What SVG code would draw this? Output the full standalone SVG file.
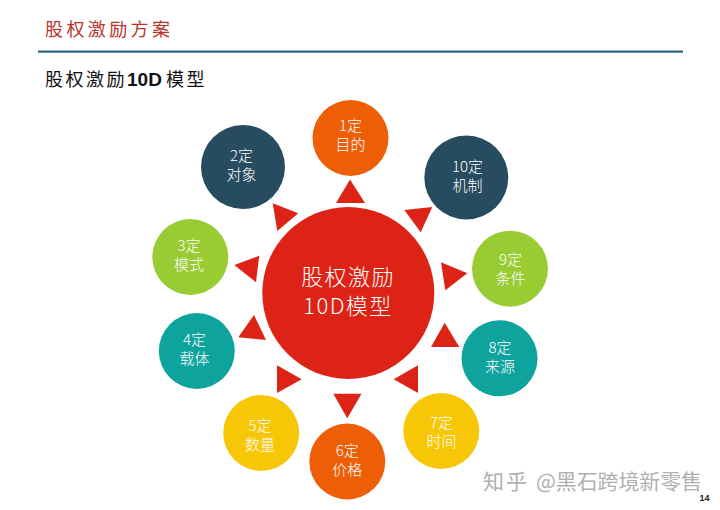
<svg xmlns="http://www.w3.org/2000/svg" width="720" height="510" viewBox="0 0 720 510">
<style>
text{font-family:"Noto Sans CJK SC","Liberation Sans",sans-serif}
.l{fill:#fff;font-size:15px;text-anchor:middle;font-weight:300}
.c{fill:#fff;font-size:22px;text-anchor:middle;font-weight:300;letter-spacing:1.4px}
.w{fill:#b0b0b0;font-size:21px}
.tri{fill:#dc2315}
.o{fill:#ee5e06}.n{fill:#274b5f}.g{fill:#99cc33}.t{fill:#0fa39e}.y{fill:#f7c707}
</style>
<rect width="720" height="510" fill="#fff"/>
<g id="header">
<text x="45" y="36" font-size="18" letter-spacing="3.4" fill="#b8342c">股权激励方案</text>
<rect x="38" y="50.500" width="645" height="2.200" fill="#2a6082"/>
<text x="45" y="86" font-size="18" letter-spacing="2.500" fill="#111">股权激励</text>
<text x="127" y="86" font-size="19" font-weight="700" fill="#111" style="font-family:'Liberation Sans',sans-serif">10D</text>
<text x="166" y="86" font-size="18" letter-spacing="2.500" fill="#111">模型</text>
</g>
<g id="connectors">
<polygon class="tri" points="350,179.500 336,203 365,203"/>
<polygon class="tri" points="272.700,203.300 298.300,213.300 277.300,231"/>
<polygon class="tri" points="404.300,210 432.300,207 420.700,232.300"/>
<polygon class="tri" points="234.300,265 259.300,255.700 256,282.300"/>
<polygon class="tri" points="441,262.300 467.300,273.300 445.300,290.300"/>
<polygon class="tri" points="238.300,337.300 254,315 266,340"/>
<polygon class="tri" points="431,347 444.700,322.700 459.300,347"/>
<polygon class="tri" points="277,365.300 301.700,379.300 277,393"/>
<polygon class="tri" points="418,365.300 393.700,379.300 418,393"/>
<polygon class="tri" points="333.300,393.700 347.300,418.300 361.500,393.700"/>
</g>
<g id="center"><circle cx="348.300" cy="293" r="86" fill="#dc2315"/>
<text class="c" x="348" y="285">股权激励</text>
<text class="c" x="348" y="314">10D模型</text></g>
<g id="n1"><circle class="o" cx="350.500" cy="138" r="38"/><text class="l" x="350.500" y="131">1定</text><text class="l" x="350.500" y="150">目的</text></g>
<g id="n2"><circle class="n" cx="243" cy="167" r="42"/><text class="l" x="241.500" y="161">2定</text><text class="l" x="241.500" y="180">对象</text></g>
<g id="n3"><circle class="g" cx="190.300" cy="257" r="38"/><text class="l" x="189" y="251">3定</text><text class="l" x="189" y="270">模式</text></g>
<g id="n4"><circle class="t" cx="196.800" cy="351" r="38"/><text class="l" x="194.500" y="345">4定</text><text class="l" x="194.500" y="364">载体</text></g>
<g id="n5"><circle class="y" cx="261.200" cy="433" r="38"/><text class="l" x="260" y="431">5定</text><text class="l" x="260" y="450">数量</text></g>
<g id="n6"><circle class="o" cx="347.300" cy="461.500" r="38"/><text class="l" x="347.300" y="456">6定</text><text class="l" x="347.300" y="475">价格</text></g>
<g id="n7"><circle class="y" cx="441.300" cy="431" r="38"/><text class="l" x="441.500" y="428">7定</text><text class="l" x="441.500" y="447">时间</text></g>
<g id="n8"><circle class="t" cx="499.500" cy="358.300" r="38"/><text class="l" x="500" y="352.500">8定</text><text class="l" x="500" y="371.500">来源</text></g>
<g id="n9"><circle class="g" cx="510" cy="268.700" r="38"/><text class="l" x="510.500" y="265">9定</text><text class="l" x="510.500" y="284">条件</text></g>
<g id="n10"><circle class="n" cx="466.300" cy="177.500" r="42"/><text class="l" x="467.500" y="172">10定</text><text class="l" x="467.500" y="191">机制</text></g>
<g id="footer">
<text class="w" x="483" y="489" textLength="44">知乎</text>
<text class="w" x="536" y="489" textLength="166">@黑石跨境新零售</text>
<text x="704.500" y="501" font-size="9" font-weight="700" fill="#222" text-anchor="middle" style="font-family:'Liberation Sans',sans-serif">14</text>
</g>
</svg>
